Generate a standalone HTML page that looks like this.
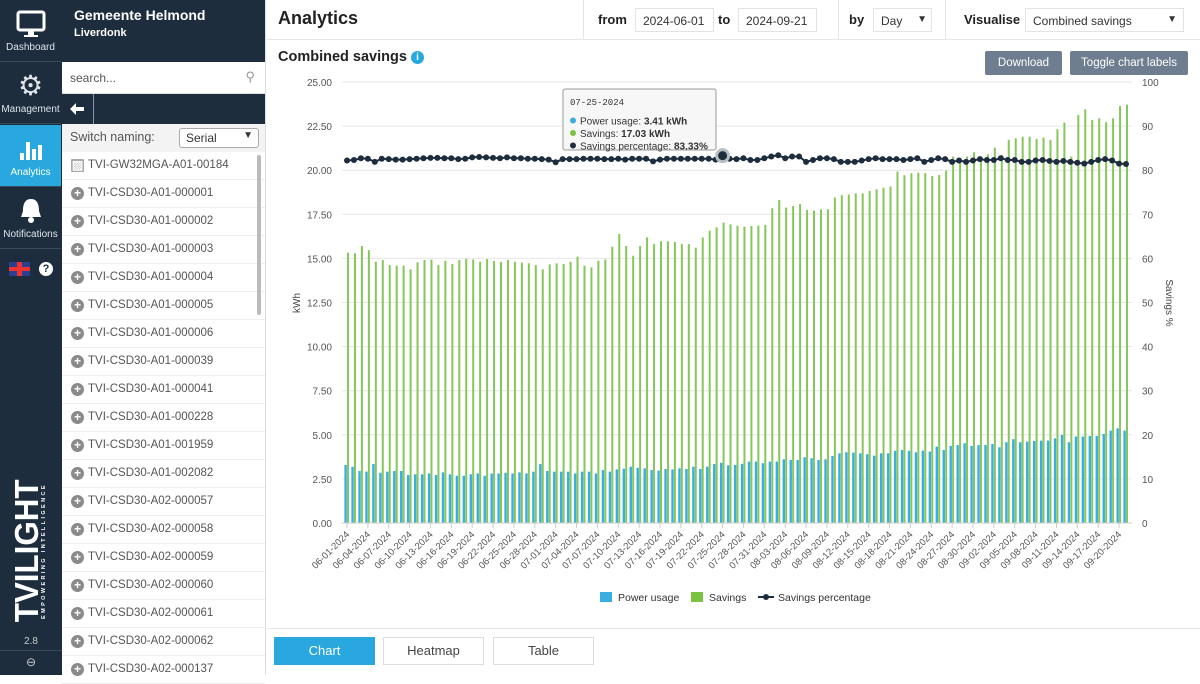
<!DOCTYPE html>
<html><head><meta charset="utf-8">
<style>
*{box-sizing:border-box;margin:0;padding:0}
body{width:1200px;height:675px;overflow:hidden;font-family:"Liberation Sans",sans-serif;background:#fff;position:relative}
.nav{position:absolute;left:0;top:0;width:62px;height:675px;background:#1d2d3e;color:#fff}
.nav .it{position:absolute;left:0;width:61px;height:62px;border-bottom:1px solid #3b4a5a;text-align:center;font-size:10px;color:#dfe4ea}
.nav .it .lb{position:absolute;bottom:8px;left:0;right:0}
.panel{position:absolute;left:62px;top:0;width:204px;height:675px;background:#fff;border-right:1px solid #ddd}
.ph{height:62px;background:#1d2d3e;color:#fff;padding:7px 12px}
.ph b{display:block;font-size:13px}
.srch{height:32px;border-bottom:1px solid #ddd;padding:9px 8px;font-size:12px;color:#555;position:relative}
.back{height:30px;background:#1d2d3e;position:relative}
.sw{height:28px;background:#f3f3f3;font-size:12.5px;color:#555;padding:6px 8px;position:relative}
.sel{position:absolute;left:117px;top:4px;width:80px;height:20px;border:1px solid #aaa;border-radius:3px;background:#fff;font-size:12px;color:#333;padding:2px 6px}
.li{height:28px;border-bottom:1px solid #eee;font-size:11.5px;color:#555;padding:7px 0 0 26px;position:relative}
.li .pl{position:absolute;left:9px;top:7px;width:13px;height:13px;border-radius:50%;background:#8a8a8a;color:#fff;font-size:12px;line-height:13px;text-align:center;font-weight:bold}
.main{position:absolute;left:267px;top:0;width:933px;height:675px}
.hdr{height:40px;border-bottom:1px solid #e6e6e6;position:relative}
.inp{position:absolute;top:8px;height:24px;border:1px solid #e3e3e3;font-size:12px;color:#333;padding:5px 7px}
.lbl{position:absolute;top:12px;font-size:13px;font-weight:bold;color:#222}
.vsep{position:absolute;top:0;width:1px;height:40px;background:#e6e6e6}
.btn{position:absolute;top:51px;height:24px;background:#6e7d8f;color:#fff;font-size:11.5px;text-align:center;line-height:24px;border-radius:2px}
.tab{position:absolute;top:637px;height:28px;width:101px;border:1px solid #ddd;font-size:13px;color:#444;text-align:center;line-height:26px}
</style></head><body>
<div class="nav">
 <div class="it" style="top:0"><svg width="30" height="28" style="margin-top:10px"><rect x="2" y="2" width="26" height="18" rx="2" fill="none" stroke="#fff" stroke-width="3"/><rect x="12" y="21" width="6" height="4" fill="#fff"/><rect x="8" y="25" width="14" height="2" fill="#fff"/></svg><div class="lb">Dashboard</div></div>
 <div class="it" style="top:62px"><div style="margin-top:10px;font-size:28px;line-height:28px">⚙</div><div class="lb">Management</div></div>
 <div class="it" style="top:125px;background:#29a8df;color:#fff"><svg width="24" height="22" style="margin-top:14px"><rect x="1" y="14" width="4" height="7" fill="#fff"/><rect x="7" y="3" width="4" height="18" fill="#fff"/><rect x="13" y="10" width="4" height="11" fill="#fff"/><rect x="19" y="6" width="4" height="15" fill="#fff"/></svg><div class="lb" style="color:#fff">Analytics</div></div>
 <div class="it" style="top:187px"><svg width="26" height="28" style="margin-top:10px"><path d="M13 2 C6 2 5 9 5 14 L3 20 L23 20 L21 14 C21 9 20 2 13 2Z" fill="#fff"/><circle cx="13" cy="23" r="3" fill="#fff"/></svg><div class="lb">Notifications</div></div>
 <div style="position:absolute;top:262px;left:9px;width:21px;height:14px;background:#2a3f8f"><div style="position:absolute;left:0;top:5px;width:21px;height:4px;background:#e33"></div><div style="position:absolute;left:8px;top:0;width:5px;height:14px;background:#e33"></div></div>
 <div style="position:absolute;top:262px;left:39px;width:14px;height:14px;border-radius:50%;background:#fff;color:#1d2d3e;font-size:11px;font-weight:bold;text-align:center;line-height:14px">?</div>
 <div style="position:absolute;left:-45px;top:534px;width:150px;height:34px;transform:rotate(-90deg);text-align:center"><div style="font-size:33px;font-weight:900;letter-spacing:0px;line-height:28px;transform:scaleX(0.95)">TVILIGHT</div><div style="font-size:5.5px;letter-spacing:2.4px;font-weight:bold">EMPOWERING INTELLIGENCE</div></div>
 <div style="position:absolute;top:636px;width:62px;text-align:center;font-size:10px;color:#ccc">2.8</div>
 <div style="position:absolute;top:650px;width:62px;border-top:1px solid #3b4a5a;text-align:center;font-size:12px;color:#ccc;padding-top:4px">⊖</div>
</div>
<div class="panel">
 <div class="ph"><b style="font-size:14px">Gemeente Helmond</b><b style="font-size:11px;margin-top:4px">Liverdonk</b></div>
 <div class="srch">search...<span style="position:absolute;right:10px;top:7px;color:#999;font-size:13px">⚲</span></div>
 <div class="back"><svg width="16" height="12" style="position:absolute;left:8px;top:9px"><path d="M0 6 L6 0 L6 4 L14 4 L14 8 L6 8 L6 12Z" fill="#fff"/></svg><div style="position:absolute;left:31px;top:0;width:1px;height:30px;background:#8797a8"></div></div>
 <div class="sw">Switch naming:<div class="sel">Serial<span style="position:absolute;right:5px;top:1px;font-size:10px">▼</span></div></div>
 <div id="list"></div>
 <div style="position:absolute;left:195px;top:155px;width:4px;height:160px;background:#bbb;border-radius:2px"></div>
</div>
<div class="main">
 <div class="hdr">
  <div style="position:absolute;left:11px;top:8px;font-size:18px;font-weight:bold;color:#222">Analytics</div>
  <div class="vsep" style="left:316px"></div><div class="vsep" style="left:571px"></div><div class="vsep" style="left:678px"></div>
  <div class="lbl" style="left:331px">from</div>
  <div class="inp" style="left:368px;width:79px">2024-06-01</div>
  <div class="lbl" style="left:451px">to</div>
  <div class="inp" style="left:471px;width:79px">2024-09-21</div>
  <div class="lbl" style="left:582px">by</div>
  <div class="inp" style="left:606px;width:59px">Day<span style="position:absolute;right:4px;top:5px;font-size:10px">▼</span></div>
  <div class="lbl" style="left:697px">Visualise</div>
  <div class="inp" style="left:758px;width:159px">Combined savings<span style="position:absolute;right:6px;top:5px;font-size:10px">▼</span></div>
 </div>
 <div style="position:absolute;left:11px;top:49px;font-size:14.5px;font-weight:bold;color:#222">Combined savings <span style="display:inline-block;width:13px;height:13px;border-radius:50%;background:#29a8df;color:#fff;font-size:10px;text-align:center;line-height:13px;vertical-align:1px">i</span></div>
 <div class="btn" style="left:718px;width:77px">Download</div>
 <div class="btn" style="left:803px;width:118px">Toggle chart labels</div>
 <div style="position:absolute;left:0;top:628px;width:933px;height:1px;background:#e6e6e6"></div>
 <div class="tab" style="left:7px;background:#29a8df;color:#fff;border-color:#29a8df">Chart</div>
 <div class="tab" style="left:116px">Heatmap</div>
 <div class="tab" style="left:226px">Table</div>
</div>
<svg id="chart" width="1200" height="675" style="position:absolute;left:0;top:0;pointer-events:none"></svg>
<script>
const devices=["TVI-GW32MGA-A01-00184","TVI-CSD30-A01-000001","TVI-CSD30-A01-000002","TVI-CSD30-A01-000003","TVI-CSD30-A01-000004","TVI-CSD30-A01-000005","TVI-CSD30-A01-000006","TVI-CSD30-A01-000039","TVI-CSD30-A01-000041","TVI-CSD30-A01-000228","TVI-CSD30-A01-001959","TVI-CSD30-A01-002082","TVI-CSD30-A02-000057","TVI-CSD30-A02-000058","TVI-CSD30-A02-000059","TVI-CSD30-A02-000060","TVI-CSD30-A02-000061","TVI-CSD30-A02-000062","TVI-CSD30-A02-000137"];
const list=document.getElementById('list');
devices.forEach((d,i)=>{const el=document.createElement('div');el.className='li';


el.innerHTML=(i==0?'<span class="pl" style="border-radius:1px;background:#aaa">▨</span>':'<span class="pl">+</span>')+d;list.appendChild(el);});

const savings=[15.32,15.29,15.70,15.47,14.81,14.91,14.62,14.59,14.59,14.38,14.78,14.91,14.93,14.62,14.87,14.68,14.91,14.98,14.94,14.81,14.96,14.85,14.79,14.91,14.81,14.76,14.72,14.62,14.38,14.66,14.72,14.68,14.81,15.10,14.59,14.49,14.87,14.94,15.66,16.38,15.70,15.15,15.70,16.19,15.81,15.97,15.97,15.93,15.81,15.81,15.61,16.19,16.57,16.76,17.03,16.93,16.85,16.80,16.84,16.86,16.90,17.84,18.31,17.88,17.97,18.09,17.75,17.71,17.78,17.78,18.45,18.58,18.62,18.69,18.69,18.82,18.92,19.01,19.07,19.92,19.71,19.83,19.86,19.83,19.67,19.73,19.98,20.77,20.68,20.77,21.02,20.77,20.90,21.28,20.87,21.72,21.81,21.90,21.90,21.77,21.85,21.72,22.32,22.70,20.77,23.13,23.45,22.85,22.94,22.72,22.94,23.64,23.72];
const power=[3.29,3.19,2.95,2.91,3.34,2.85,2.91,2.95,2.95,2.72,2.76,2.76,2.81,2.72,2.87,2.76,2.68,2.68,2.76,2.81,2.68,2.81,2.81,2.85,2.81,2.87,2.81,2.91,3.34,2.95,2.91,2.91,2.91,2.81,2.91,2.91,2.81,3.00,2.91,3.04,3.08,3.19,3.13,3.10,3.00,2.97,3.06,3.04,3.10,3.06,3.19,3.06,3.19,3.34,3.41,3.27,3.29,3.35,3.48,3.48,3.39,3.48,3.48,3.61,3.57,3.57,3.73,3.67,3.57,3.61,3.80,3.95,4.01,3.99,3.95,3.90,3.82,3.95,3.95,4.09,4.14,4.09,4.01,4.10,4.05,4.33,4.14,4.37,4.42,4.52,4.37,4.42,4.42,4.48,4.29,4.58,4.75,4.58,4.61,4.65,4.67,4.67,4.80,4.99,4.58,4.90,4.90,4.93,4.93,5.05,5.24,5.37,5.24];
const pct=[82.2,82.3,82.7,82.6,81.9,82.6,82.5,82.4,82.4,82.5,82.6,82.7,82.8,82.8,82.7,82.7,82.5,82.6,82.9,83.0,82.9,82.8,82.7,82.9,82.7,82.7,82.6,82.6,82.5,82.4,81.8,82.5,82.5,82.5,82.6,82.6,82.6,82.5,82.5,82.6,82.4,82.6,82.6,82.6,82.0,82.4,82.6,82.6,82.6,82.6,82.6,82.6,82.6,82.4,83.3,82.6,82.5,82.7,82.3,82.3,82.7,83.1,83.4,82.7,83.1,83.1,81.9,82.3,82.7,82.7,82.5,81.9,81.9,81.9,82.2,82.5,82.7,82.5,82.5,82.5,82.3,82.5,82.7,81.9,82.3,82.7,82.5,81.9,82.2,81.9,82.2,82.5,82.3,82.3,82.7,82.3,82.3,81.9,81.9,82.2,82.3,82.1,81.9,82.1,81.9,81.7,81.5,81.9,82.3,82.5,82.2,81.5,81.4];
const yTicks=[0,2.5,5,7.5,10,12.5,15,17.5,20,22.5,25];
const y2Ticks=[0,10,20,30,40,50,60,70,80,90,100];
const startDate=new Date(2024,5,1);

const svg=document.getElementById('chart');const NS='http://www.w3.org/2000/svg';
function mk(t,a,txt){const e=document.createElementNS(NS,t);for(const k in a)e.setAttribute(k,a[k]);if(txt!=null)e.textContent=txt;svg.appendChild(e);return e;}
const X0=347,X1=1126,Y0=523,Y1=82;
const n=savings.length;
const xs=i=>X0+(X1-X0)*i/(n-1);
const yL=v=>Y0-(Y0-Y1)*v/25;
const yR=v=>Y0-(Y0-Y1)*v/100;
const fmt=d=>String(d.getMonth()+1).padStart(2,'0')+'-'+String(d.getDate()).padStart(2,'0')+'-'+d.getFullYear();
yTicks.forEach(t=>{
 let g=mk('line',{x1:X0-5,x2:X1+6,y1:yL(t),y2:yL(t),stroke:'#e6e6e6','stroke-width':1});
 
 let l=mk('text',{x:332,y:yL(t)+4,'text-anchor':'end','font-size':10,fill:'#555','font-family':'Liberation Sans'},t.toFixed(2));
 
});
y2Ticks.forEach(t=>{let l=mk('text',{x:1142,y:yR(t)+4,'font-size':10,fill:'#555','font-family':'Liberation Sans'},t);
 });
let yt=mk('text',{x:300,y:303,'font-size':10,fill:'#444',transform:'rotate(-90 300 303)','text-anchor':'middle','font-family':'Liberation Sans'},'kWh');

let yt2=mk('text',{x:1166,y:303,'font-size':10,fill:'#444',transform:'rotate(90 1166 303)','text-anchor':'middle','font-family':'Liberation Sans'},'Savings %');

for(let i=0;i<n;i++){
 const x=xs(i);
 let b=mk('rect',{x:x-2.6,y:yL(power[i]),width:2.4,height:Y0-yL(power[i]),fill:'#3aaee0'});
 
 let s=mk('rect',{x:x,y:yL(savings[i]),width:2,height:Y0-yL(savings[i]),fill:'#86c65a'});
 
 if(i%3==0){
  const d=new Date(startDate);d.setDate(d.getDate()+i);
  let tk=mk('line',{x1:x,x2:x,y1:Y0,y2:Y0+5,stroke:'#ccc'});
  
  let l=mk('text',{x:x+3,y:Y0+12,'font-size':9.5,fill:'#555','text-anchor':'end',transform:`rotate(-45 ${x+3} ${Y0+12})`,'font-family':'Liberation Sans'},fmt(d));
  
 }
}
let ax=mk('line',{x1:X0-5,x2:X1+6,y1:Y0,y2:Y0,stroke:'#ccc'});

let pts=pct.map((v,i)=>xs(i)+','+yR(v)).join(' ');
let pl=mk('polyline',{points:pts,fill:'none',stroke:'#1d2d3e','stroke-width':2});

pct.forEach((v,i)=>{let c=mk('circle',{cx:xs(i),cy:yR(v),r:3,fill:'#1d2d3e'});
 });
let hv=mk('circle',{cx:xs(54),cy:yR(pct[54]),r:6,fill:'#1d2d3e',stroke:'#b8bec6','stroke-width':3});

let tb=mk('rect',{x:563,y:89,width:153,height:61,fill:'#f7f7f7',stroke:'#999','stroke-width':1,rx:2});

const TT=[['07-25-2024',null],['Power usage: ','3.41 kWh','#3aaee0'],['Savings: ','17.03 kWh','#7cc242'],['Savings percentage: ','83.33%','#1d2d3e']];
TT.forEach((r,k)=>{const yy=106+k*12.5;
 if(k==0){let t=mk('text',{x:570,y:105,'font-size':9,fill:'#333','font-family':'Liberation Mono'},r[0]);return;}
 let c=mk('circle',{cx:573,cy:yy+2,r:3,fill:r[2]});
 let t=mk('text',{x:580,y:yy+6,'font-size':10,fill:'#333','font-family':'Liberation Sans'});
 t.innerHTML=r[0]+'<tspan font-weight="bold">'+r[1]+'</tspan>';
});
const LG=[['Power usage','#3aaee0',600,'bar'],['Savings','#7cc242',691,'bar'],['Savings percentage','#1d2d3e',758,'line']];
LG.forEach(r=>{
 if(r[3]=='bar'){let q=mk('rect',{x:r[2],y:592,width:12,height:10,fill:r[1]});}
 else{let q=mk('line',{x1:r[2],x2:r[2]+16,y1:597,y2:597,stroke:r[1],'stroke-width':2});
  let c=mk('circle',{cx:r[2]+8,cy:597,r:3,fill:r[1]});}
 let t=mk('text',{x:r[2]+(r[3]=='bar'?18:20),y:601,'font-size':10.5,fill:'#333','font-family':'Liberation Sans'},r[0]);
 
});
</script>
</body></html>
